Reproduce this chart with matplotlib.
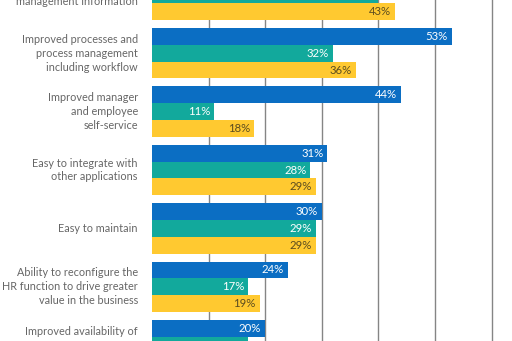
import numpy as np
import matplotlib.pyplot as plt

# Survey categories (top and bottom rows run off the edge of the figure)
categories = [
    "\nmanagement information",
    "Improved processes and\nprocess management\nincluding workflow",
    "Improved manager\nand employee\nself-service",
    "Easy to integrate with\nother applications",
    "Easy to maintain",
    "Ability to reconfigure the\nHR function to drive greater\nvalue in the business",
    "Improved availability of\n\n",
]

# Percentages for the three series, np.nan where a bar is not shown
blue_vals = [np.nan, 53, 44, 31, 30, 24, 20]
green_vals = [40, 32, 11, 28, 29, 17, 17]
yellow_vals = [43, 36, 18, 29, 29, 19, np.nan]

BLUE = '#0B6EC3'
GREEN = '#12A99C'
YELLOW = '#FFC930'
TEXT_GREY = '#666666'

plt.rcParams['font.family'] = ['Lato', 'DejaVu Sans']

fig = plt.figure(figsize=(5.12, 3.41), dpi=100)
ax = fig.add_axes([152 / 512, 0, 1 - 152 / 512, 1])

h = 0.288  # bar thickness in group units
pos = np.arange(len(categories))

series = [(blue_vals, -h, BLUE, 'white'),
          (green_vals, 0, GREEN, 'white'),
          (yellow_vals, h, YELLOW, '#5b4c1f')]

for vals, off, col, tcol in series:
    vals = np.array(vals, dtype=float)
    ok = ~np.isnan(vals)
    ax.barh(pos[ok] + off, vals[ok], height=h, color=col, zorder=2)
    for y, v in zip(pos[ok] + off, vals[ok]):
        ax.text(v - 0.7, y, "{:d}%".format(int(v)), ha='right', va='center',
                color=tcol, fontsize=8.2, zorder=3)

for y, lab in zip(pos, categories):
    ax.text(-2.5, y, lab, ha='right', va='center', color=TEXT_GREY,
            fontsize=7.8, linespacing=1.33, clip_on=False)

ax.set_xlim(0, 63.6)
ax.set_ylim(5.928, 0.089)
ax.set_xticks(range(10, 70, 10))
ax.set_yticks([])
ax.xaxis.grid(True, color='#858585', linewidth=1.0, zorder=0)
ax.set_axisbelow(True)
ax.tick_params(axis='x', length=0, labelbottom=False)
for s in ax.spines.values():
    s.set_visible(False)

plt.savefig('out.png', dpi=100)
